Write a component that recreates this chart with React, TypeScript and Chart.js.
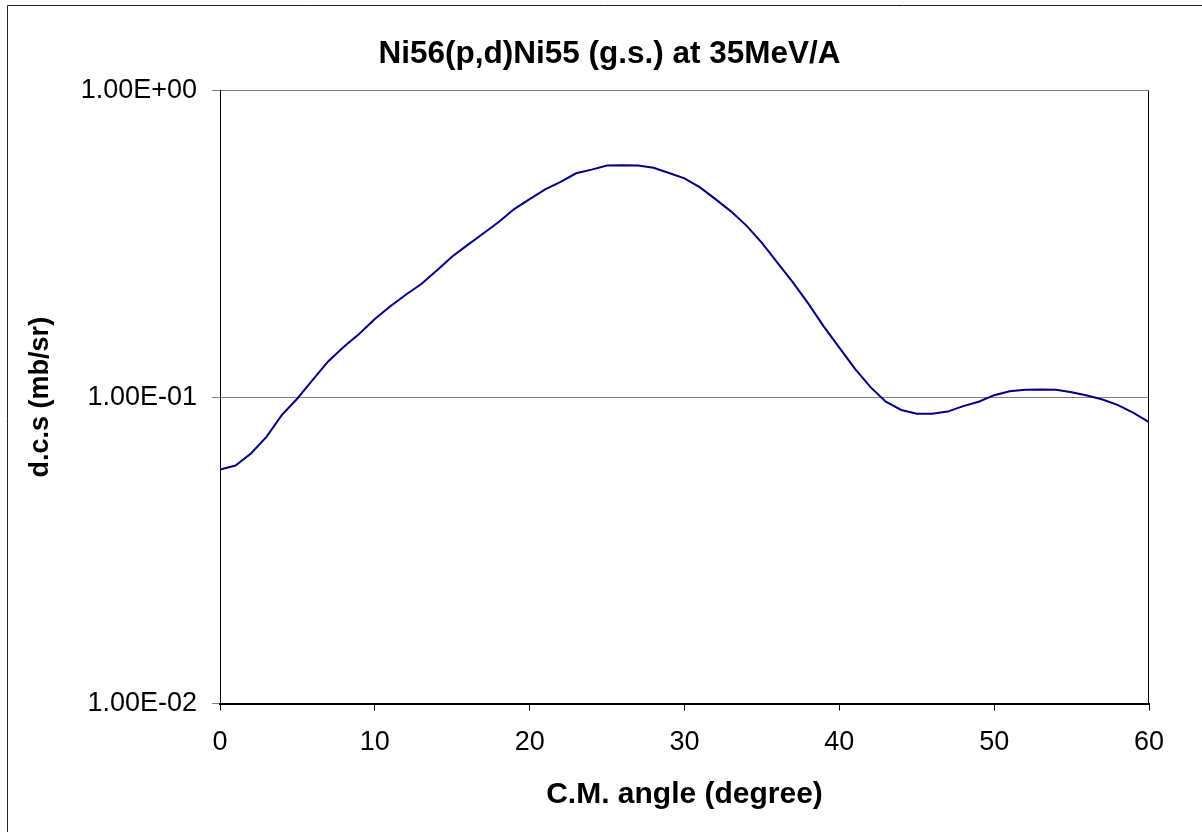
import React, { useEffect, useRef } from "react";
import { Chart, registerables } from "chart.js";

Chart.register(...registerables);

const chartTitle = "Ni56(p,d)Ni55 (g.s.) at 35MeV/A";
const xAxisTitle = "C.M. angle (degree)";
const yAxisTitle = "d.c.s (mb/sr)";

const angles = [
  0, 1, 2, 3, 4, 5, 6, 7, 8, 9, 10, 11, 12, 13, 14, 15, 16, 17, 18, 19, 20,
  21, 22, 23, 24, 25, 26, 27, 28, 29, 30, 31, 32, 33, 34, 35, 36, 37, 38, 39, 40,
  41, 42, 43, 44, 45, 46, 47, 48, 49, 50, 51, 52, 53, 54, 55, 56, 57, 58, 59, 60,
];

const dcs = [
  0.058, 0.0598, 0.0655, 0.0742, 0.0875, 0.099, 0.114, 0.131, 0.146, 0.161, 0.18,
  0.198, 0.216, 0.234, 0.259, 0.288, 0.314, 0.342, 0.373, 0.411, 0.443,
  0.477, 0.504, 0.538, 0.553, 0.57, 0.571, 0.57, 0.561, 0.539, 0.518,
  0.484, 0.443, 0.404, 0.363, 0.319, 0.275, 0.237, 0.202, 0.17, 0.145,
  0.124, 0.108, 0.0966, 0.0908, 0.0883, 0.0883, 0.0897, 0.0935, 0.0966, 0.1015,
  0.1045, 0.1058, 0.106, 0.1058, 0.1038, 0.1012, 0.0982, 0.0942, 0.0888, 0.0828,
];

const yTickValues = [0.01, 0.1, 1];
const xTickValues = [0, 10, 20, 30, 40, 50, 60];

const FONT = "'Liberation Sans', Arial, sans-serif";

function formatExp(v: number): string {
  const e = Math.round(Math.log10(v));
  const m = v / Math.pow(10, e);
  const sign = e < 0 ? "-" : "+";
  return m.toFixed(2) + "E" + sign + String(Math.abs(e)).padStart(2, "0");
}

const framePlugin = {
  id: "frame",
  beforeDraw(chart: any) {
    const ctx = chart.ctx;
    ctx.save();
    ctx.fillStyle = "#ffffff";
    ctx.fillRect(0, 0, chart.width, chart.height);
    ctx.strokeStyle = "#222222";
    ctx.lineWidth = 1;
    ctx.beginPath();
    ctx.moveTo(7.5, chart.height);
    ctx.lineTo(7.5, 5.5);
    ctx.lineTo(chart.width, 5.5);
    ctx.stroke();
    ctx.restore();
  },
  beforeDatasetsDraw(chart: any) {
    const { ctx, chartArea } = chart;
    ctx.save();
    ctx.strokeStyle = "#000000";
    ctx.lineWidth = 1;
    ctx.beginPath();
    ctx.moveTo(Math.round(chartArea.right) - 0.5, chartArea.top);
    ctx.lineTo(Math.round(chartArea.right) - 0.5, chartArea.bottom);
    ctx.stroke();
    ctx.restore();
  },
};

export default function App() {
  const canvasRef = useRef<HTMLCanvasElement | null>(null);

  useEffect(() => {
    if (!canvasRef.current) return;
    const chart = new Chart(canvasRef.current, {
      type: "line",
      data: {
        datasets: [
          {
            label: "d.c.s",
            data: angles.map((a, i) => ({ x: a, y: dcs[i] })),
            borderColor: "#000080",
            backgroundColor: "#000080",
            borderWidth: 2,
            pointRadius: 0,
            tension: 0,
            fill: false,
            yAxisID: "y",
            xAxisID: "x",
          },
        ],
      },
      options: {
        animation: false,
        responsive: false,
        maintainAspectRatio: false,
        layout: { padding: { left: 17, right: 0, top: 0, bottom: 0 } },
        plugins: {
          legend: { display: false },
          tooltip: { enabled: false },
          title: {
            display: true,
            text: chartTitle,
            color: "#000000",
            font: { family: FONT, size: 31.5, weight: "bold", lineHeight: 1.2 },
            padding: { top: 35, bottom: 18 },
          },
        },
        scales: {
          x: {
            type: "linear",
            min: 0,
            max: 60,
            afterBuildTicks: (scale: any) => {
              scale.ticks = xTickValues.map((v) => ({ value: v }));
            },
            afterFit: (scale: any) => {
              scale.height = 128.5;
            },
            ticks: {
              color: "#000000",
              font: { family: FONT, size: 27 },
              padding: 16,
              maxRotation: 0,
              autoSkip: false,
            },
            grid: {
              display: true,
              drawOnChartArea: false,
              drawTicks: true,
              tickLength: 7,
              tickColor: "#000000",
            },
            border: { display: true, color: "#000000", width: 2 },
            title: {
              display: true,
              text: xAxisTitle,
              color: "#000000",
              font: { family: FONT, size: 30, weight: "bold", lineHeight: 1.2 },
              padding: { top: 0, bottom: 19 },
            },
          },
          y: {
            type: "logarithmic",
            position: "left",
            min: 0.01,
            max: 1,
            afterBuildTicks: (scale: any) => {
              scale.ticks = yTickValues.map((v) => ({ value: v, major: true }));
            },
            afterFit: (scale: any) => {
              scale.width = 203;
            },
            ticks: {
              color: "#000000",
              font: { family: FONT, size: 27 },
              padding: 15,
              autoSkip: false,
              callback: (value: any) => formatExp(Number(value)),
            },
            grid: {
              display: true,
              color: "#808080",
              lineWidth: 1,
              drawTicks: true,
              tickLength: 8,
              tickColor: "#808080",
            },
            border: { display: true, color: "#000000", width: 1 },
            title: {
              display: true,
              text: yAxisTitle,
              color: "#000000",
              font: { family: FONT, size: 27, weight: "bold", lineHeight: 1.2 },
              padding: { top: 7, bottom: 0 },
            },
          },
          yRight: {
            type: "linear",
            position: "right",
            display: true,
            afterFit: (scale: any) => {
              scale.width = 53;
            },
            ticks: { display: false },
            grid: { display: false, drawTicks: false },
            border: { display: false },
            title: { display: false },
          },
        },
      },
      plugins: [framePlugin],
    } as any);
    return () => {
      chart.destroy();
    };
  }, []);

  return (
    <div style={{ position: "absolute", left: 0, top: 0, width: 1202, height: 832 }}>
      <canvas ref={canvasRef} width={1202} height={832} style={{ display: "block" }} />
    </div>
  );
}
